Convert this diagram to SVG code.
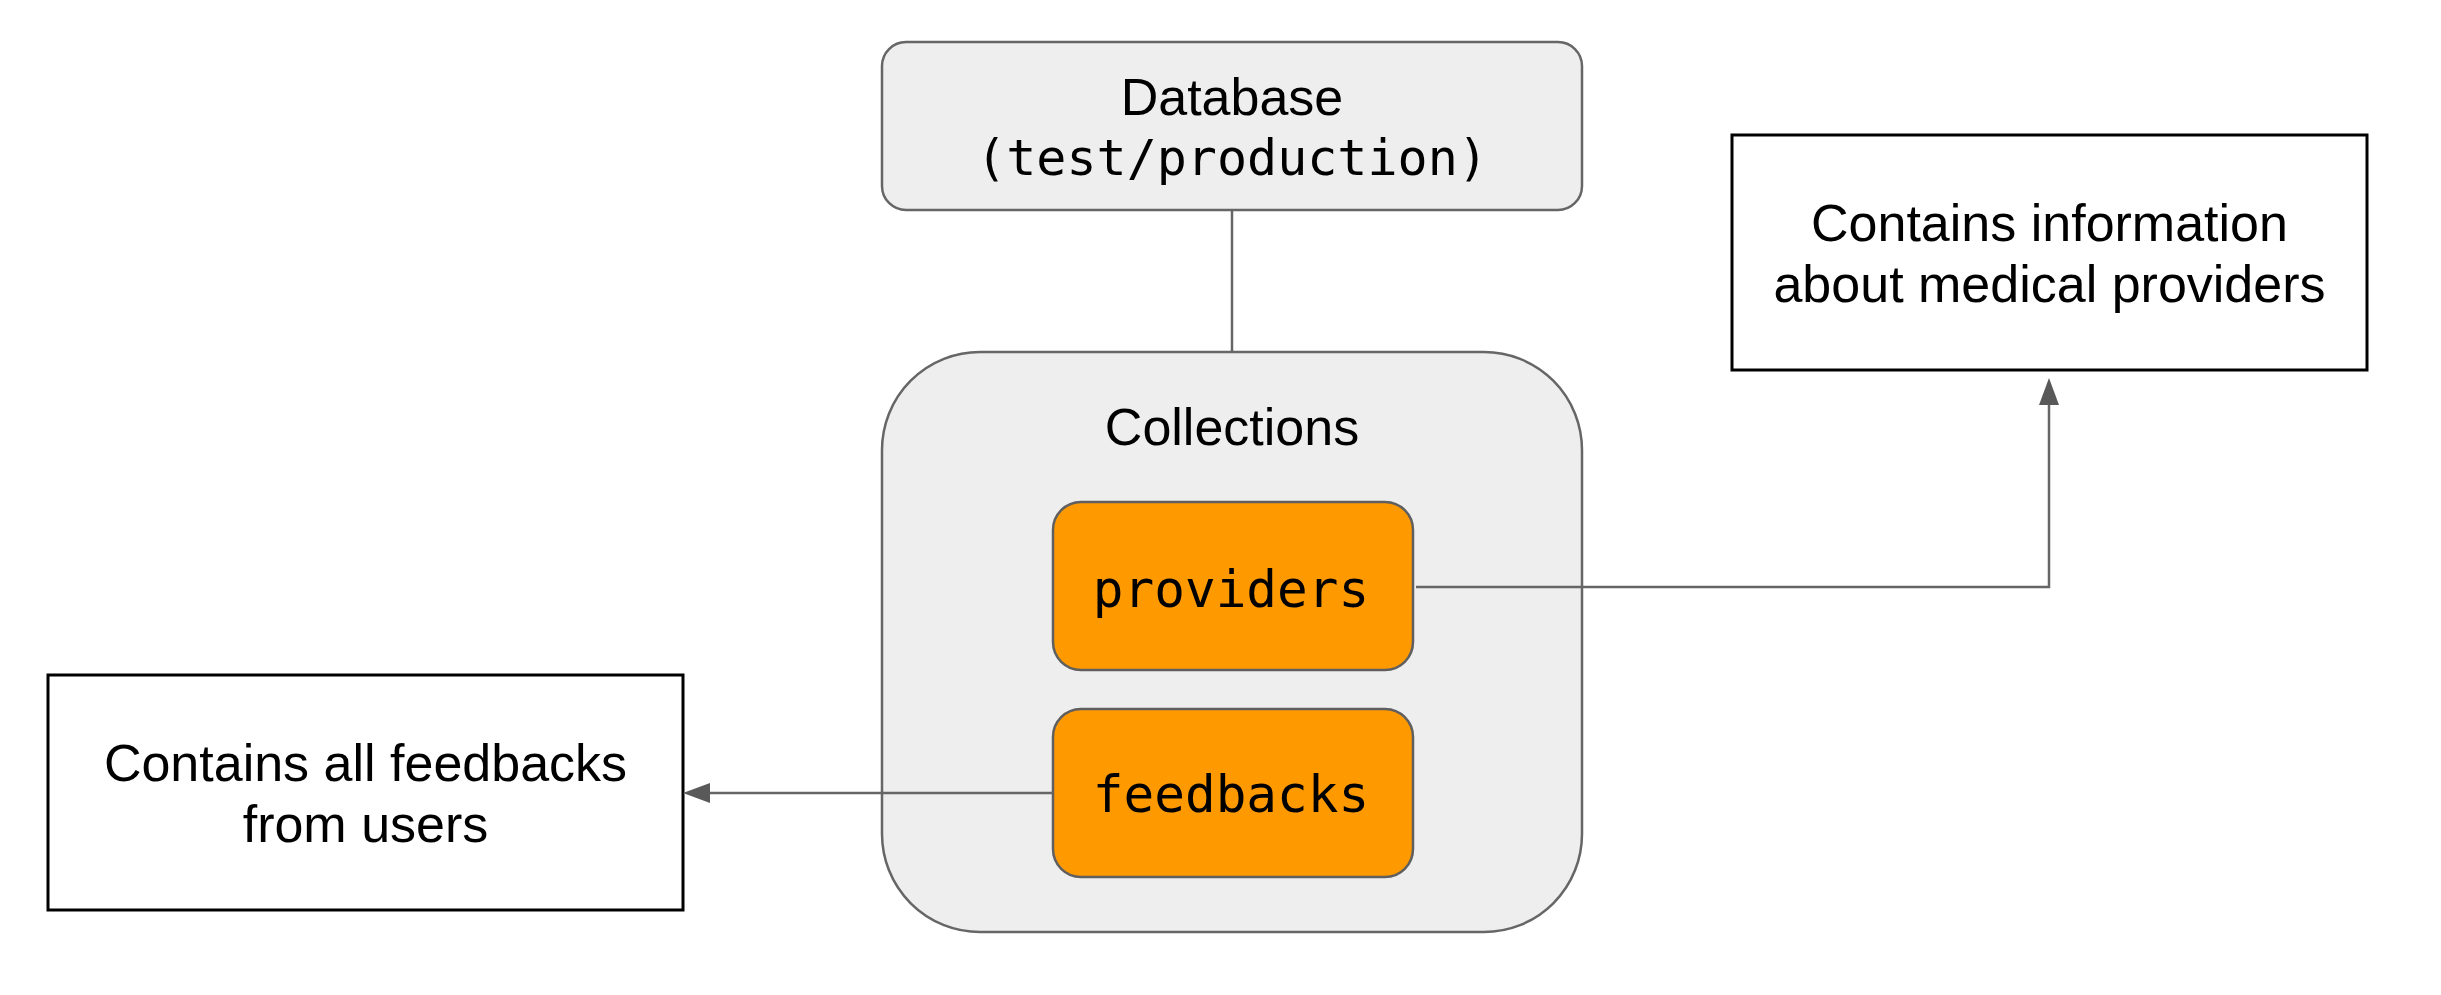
<svg xmlns="http://www.w3.org/2000/svg" width="2441" height="995" viewBox="0 0 2441 995">
  <defs>
    <marker id="arrow" markerUnits="userSpaceOnUse" markerWidth="28" markerHeight="22" refX="0" refY="10" orient="auto" overflow="visible">
      <path d="M0,0 L27,10 L0,20 z" fill="#595959"/>
    </marker>
    <style>
      .grey { fill: #eeeeee; stroke: #666666; stroke-width: 2.5; }
      .orange { fill: #ff9900; stroke: #5f5f5f; stroke-width: 2.5; }
      .note { fill: #ffffff; stroke: #000000; stroke-width: 3; }
      .sans { font-family: "Liberation Sans", Arial, sans-serif; font-size: 52px; fill: #000000; text-anchor: middle; }
      .mono { font-family: "DejaVu Sans Mono", "Liberation Mono", monospace; font-size: 50px; fill: #000000; text-anchor: middle; }
      .conn { fill: none; stroke: #666666; stroke-width: 2.5; }
    </style>
  </defs>
  <rect width="2441" height="995" fill="#ffffff"/>

  <g id="database">
    <rect class="grey" x="882" y="42" width="700" height="168" rx="24" ry="24"/>
    <text class="sans" x="1232" y="115">Database</text>
    <text class="mono" x="1232" y="175">(test/production)</text>
  </g>

  <g id="collections">
    <rect class="grey" x="882" y="352" width="700" height="580" rx="98" ry="98"/>
    <text class="sans" x="1232" y="445">Collections</text>
  </g>

  <g id="providers">
    <rect class="orange" x="1053" y="502" width="360" height="168" rx="28" ry="28"/>
    <text class="mono" x="1231" y="607" style="font-size:51px">providers</text>
  </g>

  <g id="feedbacks">
    <rect class="orange" x="1053" y="709" width="360" height="168" rx="28" ry="28"/>
    <text class="mono" x="1231" y="812" style="font-size:51px">feedbacks</text>
  </g>

  <g id="providers-note">
    <rect class="note" x="1732" y="135" width="635" height="235"/>
    <text class="sans" x="2049.5" y="241">Contains information</text>
    <text class="sans" x="2049.5" y="302">about medical providers</text>
  </g>

  <g id="feedbacks-note">
    <rect class="note" x="48" y="675" width="635" height="235"/>
    <text class="sans" x="365.5" y="781">Contains all feedbacks</text>
    <text class="sans" x="365.5" y="842">from users</text>
  </g>

  <g id="connectors">
    <path class="conn" d="M1232,210 V352"/>
    <path class="conn" d="M1416,587 H2049 V405" marker-end="url(#arrow)"/>
    <path class="conn" d="M1053,793 H710" marker-end="url(#arrow)"/>
  </g>
</svg>
